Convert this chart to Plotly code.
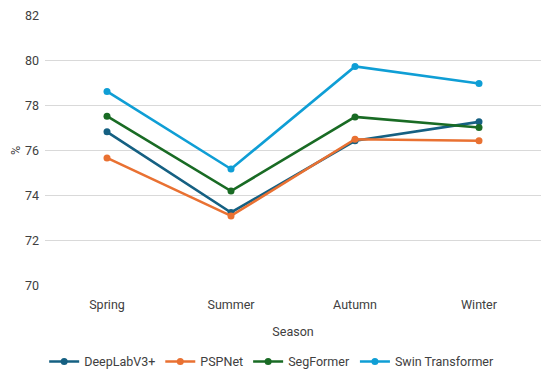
import plotly.graph_objects as go

seasons = ["Spring", "Summer", "Autumn", "Winter"]
deeplab = [76.83, 73.25, 76.43, 77.27]
pspnet = [75.67, 73.10, 76.50, 76.43]
segformer = [77.52, 74.20, 77.49, 77.02]
swin = [78.62, 75.18, 79.73, 78.97]

series = [
    ("DeepLabV3+", deeplab, "#156082"),
    ("PSPNet", pspnet, "#E97132"),
    ("SegFormer", segformer, "#196B24"),
    ("Swin Transformer", swin, "#0F9ED5"),
]
yticks = [70, 72, 74, 76, 78, 80, 82]

fig = go.Figure()
for name, vals, col in series:
    fig.add_trace(go.Scatter(
        x=seasons, y=vals, name=name, mode="lines+markers",
        line=dict(color=col, width=2.6),
        marker=dict(color=col, size=7),
    ))

font = "Roboto, Liberation Sans, sans-serif"
tc = "#404040"
# page body has an 8px margin; figure sized to fit inside the 550x372 window
fig.update_layout(
    width=534, height=362,
    margin=dict(l=37, r=1, t=7, b=84, autoexpand=False),
    paper_bgcolor="white", plot_bgcolor="white",
    font=dict(family=font, size=12.5, color=tc),
    showlegend=True,
    legend=dict(orientation="h", x=0.457, xanchor="center", y=-0.28, yanchor="middle",
                font=dict(size=12.5, color=tc), tracegroupgap=0),
    xaxis=dict(type="category", range=[-0.5, 3.5], showgrid=False, showline=False,
               zeroline=False, ticks="", tickfont=dict(size=12.5, color=tc),
               automargin=False, ticklabelstandoff=9,
               title=dict(text="Season", font=dict(size=12.5, color=tc), standoff=16)),
    yaxis=dict(range=[69.99, 82.01], tickvals=yticks, showgrid=True, gridcolor="#d9d9d9",
               gridwidth=1, zeroline=False, showline=False, ticks="",
               tickfont=dict(size=12.5, color=tc), automargin=False,
               ticklabeloverflow="allow", ticklabelstandoff=5,
               title=dict(text="%", font=dict(size=12.5, color=tc), standoff=5)),
)
fig.write_html("out.html")
